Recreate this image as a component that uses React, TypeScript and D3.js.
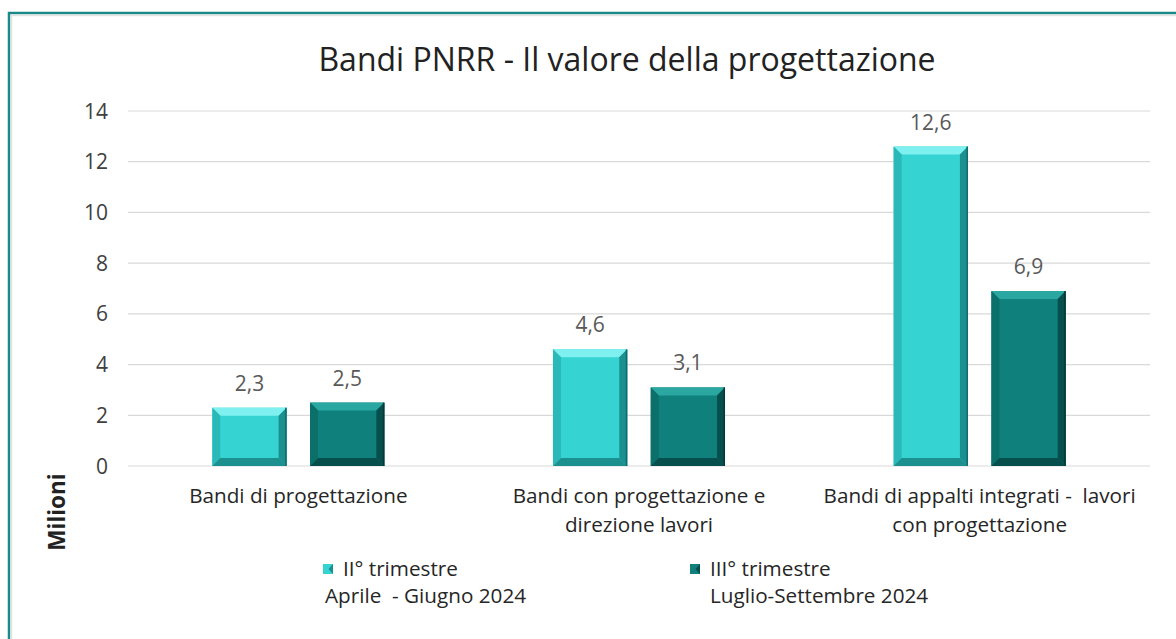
import React from "react";
import * as d3 from "d3";

const categories: string[][] = [
  ["Bandi di progettazione"],
  ["Bandi con progettazione e", "direzione lavori"],
  ["Bandi di appalti integrati -  lavori", "con progettazione"],
];
const seriesNames = ["II° trimestre", "III° trimestre"];
const seriesSub = ["Aprile  - Giugno 2024", "Luglio-Settembre 2024"];
const q2Values = [2.3, 4.6, 12.6];
const q3Values = [2.5, 3.1, 6.9];
const yTicks = [0, 2, 4, 6, 8, 10, 12, 14];

const W = 1176;
const H = 639;
const colors = [
  { base: "#36d3d3", light: "#7ff0f0", side: "#2bb8b8", dark: "#1c8f8f", shadow: "#106c6c" },
  { base: "#0f807b", light: "#2aa7a1", side: "#0b6f6a", dark: "#064f4c", shadow: "#033a38" },
];
const FONT = "'Open Sans', Lato, sans-serif";
const pre = { whiteSpace: "pre" as const };

function BevelBar({ x, y, w, h, c }: { x: number; y: number; w: number; h: number; c: typeof colors[0] }) {
  const b = Math.min(8, h / 2, w / 2);
  const x2 = x + w;
  const y2 = y + h;
  return (
    <g>
      <rect x={x} y={y} width={w} height={h} fill={c.base} />
      <polygon points={`${x},${y} ${x2},${y} ${x2 - b},${y + b} ${x + b},${y + b}`} fill={c.light} />
      <polygon points={`${x},${y} ${x + b},${y + b} ${x + b},${y2 - b} ${x},${y2}`} fill={c.side} />
      <polygon points={`${x2},${y} ${x2},${y2} ${x2 - b},${y2 - b} ${x2 - b},${y + b}`} fill={c.dark} />
      <polygon points={`${x},${y2} ${x + b},${y2 - b} ${x2 - b},${y2 - b} ${x2},${y2}`} fill={c.dark} />
      <line x1={x2 - 0.75} y1={y} x2={x2 - 0.75} y2={y2} stroke={c.shadow} strokeWidth={1.5} />
    </g>
  );
}

export default function App() {
  const plotLeft = 128;
  const plotRight = 1150;
  const y = d3.scaleLinear().domain([0, 14]).range([466, 111]);
  const x0 = d3
    .scaleBand<number>()
    .domain(categories.map((_, i) => i))
    .range([plotLeft, plotRight])
    .paddingInner(0.495)
    .paddingOuter(0.2475);
  const x1 = d3.scaleBand<number>().domain([0, 1]).range([0, x0.bandwidth()]).paddingInner(0.24);
  const series = [q2Values, q3Values];
  const legendX = [323, 690];
  const legendSubX = [325, 710];

  return (
    <svg width={W} height={H} style={{ position: "absolute", left: 0, top: 0, background: "#fff" }}>
      <rect x={0} y={0} width={W} height={H} fill="#fff" />
      <path d={`M9,${H + 5} L9,13 L${W + 5},13`} fill="none" stroke="#1a8a88" strokeWidth={2.5} />
      <path d={`M11.5,${H + 5} L11.5,15.5 L${W + 5},15.5`} fill="none" stroke="#e2e2e2" strokeWidth={1.5} />
      <text x={627} y={71} textAnchor="middle" fontFamily={FONT} fontSize={32} fill="#222">
        Bandi PNRR - Il valore della progettazione
      </text>
      {yTicks.map((t) => (
        <g key={t}>
          <line x1={plotLeft} x2={plotRight} y1={y(t)} y2={y(t)} stroke="#d9d9d9" strokeWidth={1.2} />
          <text x={108} y={y(t) + 7.5} textAnchor="end" fontFamily={FONT} fontSize={21} fill="#404040">
            {t}
          </text>
        </g>
      ))}
      {categories.map((cat, ci) =>
        series.map((vals, si) => {
          const bx = (x0(ci) as number) + (x1(si) as number);
          const bw = x1.bandwidth();
          const by = y(vals[ci]);
          return (
            <g key={`${ci}-${si}`}>
              <BevelBar x={bx} y={by} w={bw} h={y(0) - by} c={colors[si]} />
              <text x={bx + bw / 2} y={by - 17} textAnchor="middle" fontFamily={FONT} fontSize={21} fill="#595959">
                {vals[ci].toFixed(1).replace(".", ",")}
              </text>
            </g>
          );
        })
      )}
      {categories.map((lines, ci) => (
        <text
          key={ci}
          x={(x0(ci) as number) + x0.bandwidth() / 2}
          y={503}
          textAnchor="middle"
          fontFamily={FONT}
          fontSize={20.7}
          fill="#262626"
          style={pre}
        >
          {lines.map((l, li) => (
            <tspan key={li} x={(x0(ci) as number) + x0.bandwidth() / 2} dy={li === 0 ? 0 : 29}>
              {l}
            </tspan>
          ))}
        </text>
      ))}
      <text
        transform="translate(65,512) rotate(-90)"
        textAnchor="middle"
        fontFamily={FONT}
        fontSize={22.5}
        fontWeight="bold"
        fill="#222"
      >
        Milioni
      </text>
      {seriesNames.map((name, si) => {
        const lx = legendX[si];
        return (
          <g key={si}>
            <rect x={lx} y={564} width={10} height={10} fill={colors[si].base} />
            <polygon points={`${lx + 10},${564} ${lx + 10},${574} ${lx + 5.5},${569}`} fill={colors[si].dark} />
            <text x={lx + 20} y={576} fontFamily={FONT} fontSize={20.7} fill="#262626" style={pre}>
              {name}
            </text>
            <text x={legendSubX[si]} y={603} fontFamily={FONT} fontSize={20.7} fill="#262626" style={pre}>
              {seriesSub[si]}
            </text>
          </g>
        );
      })}
    </svg>
  );
}
